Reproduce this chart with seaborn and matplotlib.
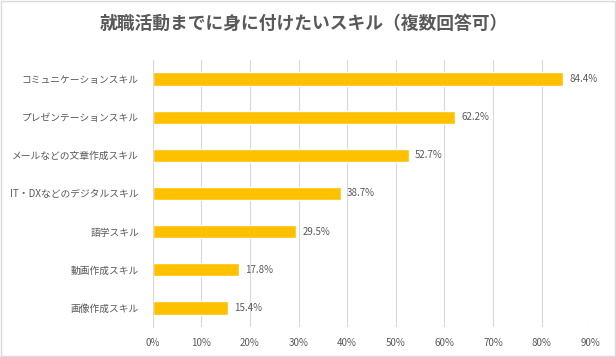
import matplotlib
matplotlib.use("Agg")
import matplotlib.pyplot as plt
import seaborn as sns
import pandas as pd
from matplotlib.ticker import FuncFormatter

categories = ["コミュニケーションスキル", "プレゼンテーションスキル", "メールなどの文章作成スキル",
              "IT・DXなどのデジタルスキル", "語学スキル", "動画作成スキル", "画像作成スキル"]
values = [84.4, 62.2, 52.7, 38.7, 29.5, 17.8, 15.4]
xticks = [0, 10, 20, 30, 40, 50, 60, 70, 80, 90]
title = "就職活動までに身に付けたいスキル（複数回答可）"

sns.set_theme(style="white")
plt.rcParams['font.family'] = ['Noto Sans CJK JP', 'DejaVu Sans']

df = pd.DataFrame({"cat": categories, "val": values})

fig = plt.figure(figsize=(6.16, 3.57), dpi=100)
ax = fig.add_axes([0.248, 0.084, 0.71, 0.748])
sns.barplot(data=df, x="val", y="cat", color="#FFC000", saturation=1, width=0.35, ax=ax)

gray = "#595959"
ax.set_xlim(0, 90)
ax.set_ylim(6.5, -0.5)
ax.set_xticks(xticks)
ax.xaxis.set_major_formatter(FuncFormatter(lambda v, p: f"{v:.0f}%"))
ax.grid(axis="x", color="#D9D9D9", linewidth=0.8)
ax.set_axisbelow(True)
for s in ["top", "right", "bottom"]:
    ax.spines[s].set_visible(False)
ax.spines["left"].set_color("#D9D9D9")
ax.spines["left"].set_linewidth(0.8)
ax.tick_params(axis="both", length=0, labelsize=7, colors=gray, pad=8)
ax.tick_params(axis="y", pad=10)
ax.set_xlabel("")
ax.set_ylabel("")

for i, v in enumerate(values):
    ax.text(v + 1.3, i, f"{v:.1f}%", va="center", ha="left", fontsize=7, color=gray)

fig.text(0.494, 0.932, title, ha="center", va="center", fontsize=12.8, fontweight="bold", color=gray)

border = plt.Rectangle((0.002, 0.003), 0.996, 0.994, transform=fig.transFigure,
                       fill=False, edgecolor="#D9D9D9", linewidth=1)
fig.patches.append(border)

fig.savefig("out.png", dpi=100)
